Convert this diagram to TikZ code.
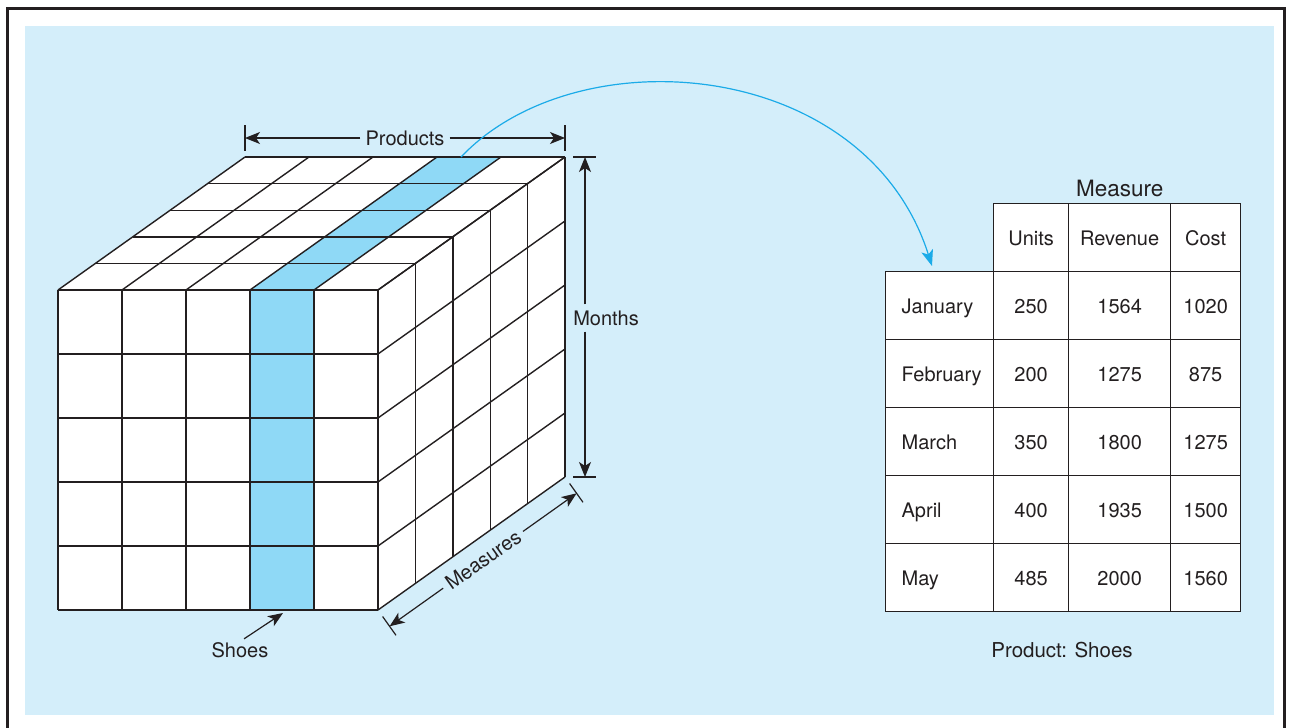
\documentclass[tikz,border=0pt]{standalone}
\usepackage{fontspec}
\setmainfont{TeX Gyre Heros}
\usetikzlibrary{arrows.meta,positioning,calc}

\definecolor{panel}{HTML}{D4EEFA}
\definecolor{slice}{HTML}{8FD9F6}
\definecolor{link}{HTML}{1BABE8}
\definecolor{ink}{HTML}{231F20}

\begin{document}
\begin{tikzpicture}[
    x=1pt, y=-1pt,
    every node/.style={font=\fontsize{20}{24}\selectfont, text=ink},
    cubeline/.style={draw=ink, line width=1.4pt},
    dimline/.style={draw=ink, line width=1.2pt, -{Stealth[length=15pt, width=12pt, inset=4pt]}},
    dimtick/.style={draw=ink, line width=1.2pt},
    dimlabel/.style={fill=panel, inner sep=5pt},
    cell/.style={draw=ink, line width=1.3pt, fill=white, minimum height=68pt, inner sep=0pt,
        text height=15pt, text depth=0pt, anchor=north west}
]
\useasboundingbox (0,0) rectangle (1291,728);
\fill[panel] (25,26) rectangle (1274,715);
\draw[ink, line width=2.6pt] (7.5,728) -- (7.5,8.5) -- (1284.5,8.5) -- (1284.5,728);

% cube
\fill[white] (58,290) -- (245,157) -- (565,157) -- (565,477) -- (378,610) -- (58,610) -- cycle;
\fill[slice] (250,290) -- (437,157) -- (501,157) -- (314,290) -- (314,610) -- (250,610) -- cycle;
\foreach \k in {0,...,5} {
    \draw[cubeline] (58,{290+64*\k}) -- ++(320,0);
    \draw[cubeline] ({58+64*\k},290) -- ++(0,320);
    \draw[cubeline] ({58+37.4*\k},{290-26.6*\k}) -- ++(320,0);
    \draw[cubeline] ({58+64*\k},290) -- ++(187,-133);
    \draw[cubeline] ({378+37.4*\k},{290-26.6*\k}) -- ++(0,320);
    \draw[cubeline] (378,{290+64*\k}) -- ++(187,-133);
}
\coordinate (sliceTop) at (461,157);

\coordinate (prodL) at (245,138);
\coordinate (prodR) at (565,138);
\node[dimlabel] (products) at (405,138) {Products};
\draw[dimtick] ($(prodL)+(0,-13)$) -- ($(prodL)+(0,13)$);
\draw[dimtick] ($(prodR)+(0,-13)$) -- ($(prodR)+(0,13)$);
\draw[dimline] (products) -- (prodL);
\draw[dimline] (products) -- (prodR);

\coordinate (monT) at (585,157);
\coordinate (monB) at (585,477);
\node[dimlabel, inner sep=6pt] (months) at (606,318) {Months};
\draw[dimtick] ($(monT)+(-12,0)$) -- ($(monT)+(11,0)$);
\draw[dimtick] ($(monB)+(-12,0)$) -- ($(monB)+(11,0)$);
\draw[dimline] (months.north -| monT) -- (monT);
\draw[dimline] (months.south -| monT) -- (monB);

\coordinate (measL) at (389.6,626.3);
\coordinate (measR) at (576.6,493.3);
\node[dimlabel, rotate=35.4] (measures) at ($(measL)!0.5!(measR)$) {Measures};
\draw[dimtick] (382.6,616.5) -- (396,635.3);
\draw[dimtick] (569.6,483.5) -- (583,502.3);
\draw[dimline] (measures) -- (measL);
\draw[dimline] (measures) -- (measR);

\node (shoes) at (240,650) {Shoes};
\coordinate (shoeTip) at (283,613);
\draw[dimline] (shoes.70) -- (shoeTip);

% table
\foreach \name/\x/\w in {Units/993/75, Revenue/1068/102, Cost/1170/70}
    \node[cell, minimum width=\w pt] (head\name) at (\x,203) {\name};
\node[above=3pt of headRevenue, font=\fontsize{22.5}{26}\selectfont] (measure) {Measure};

\foreach \m/\u/\r/\c [count=\j from 0] in {January/250/1564/1020, February/200/1275/875,
        March/350/1800/1275, April/400/1935/1500, May/485/2000/1560} {
    \node[cell, minimum width=108pt, text width=92pt, inner xsep=8pt, align=left] (month\j) at (885,{271+68*\j}) {\hspace*{8pt}\m};
    \node[cell, minimum width=75pt] (units\j) at (993,{271+68*\j}) {\u};
    \node[cell, minimum width=102pt] (revenue\j) at (1068,{271+68*\j}) {\r};
    \node[cell, minimum width=70pt] (cost\j) at (1170,{271+68*\j}) {\c};
}
\node[font=\fontsize{20.5}{24}\selectfont] (caption) at (1062,650) {Product: Shoes};

\coordinate (tabArrow) at (932,266);
\draw[link, line width=1.2pt, -{Stealth[length=16pt, width=12pt, inset=4pt]}] (sliceTop) .. controls (578,34) and (866,58) .. (tabArrow);
\end{tikzpicture}
\end{document}
